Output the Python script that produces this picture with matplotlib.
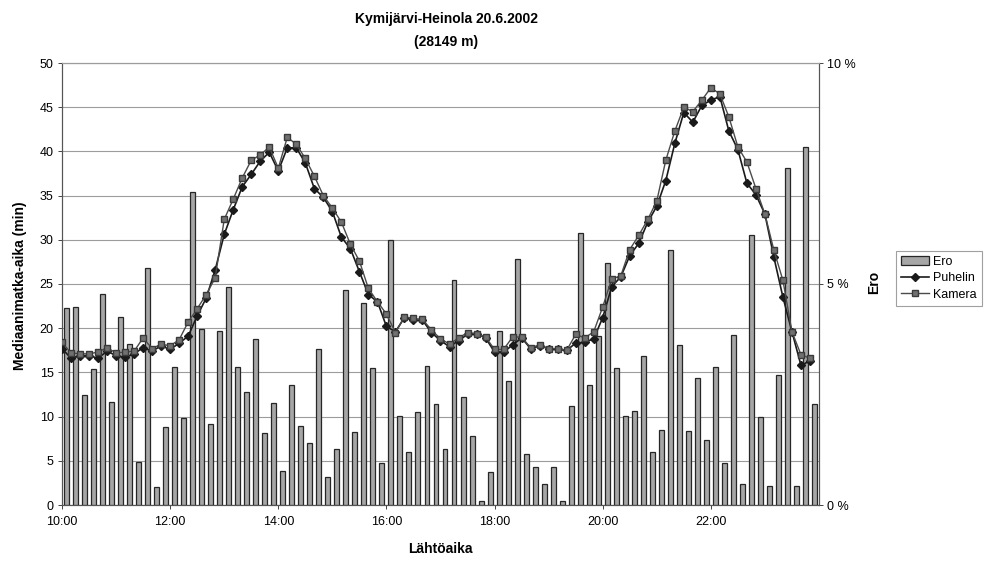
import matplotlib
matplotlib.use('Agg')
import matplotlib.pyplot as plt
import numpy as np
from matplotlib.lines import Line2D
from matplotlib.patches import Patch

plt.rcParams['font.family'] = ['Liberation Sans', 'DejaVu Sans']

# Categories: departure times (10-minute steps)
times = ["10:00", "10:10", "10:20", "10:30", "10:40", "10:50",
         "11:00", "11:10", "11:20", "11:30", "11:40", "11:50",
         "12:00", "12:10", "12:20", "12:30", "12:40", "12:50",
         "13:00", "13:10", "13:20", "13:30", "13:40", "13:50",
         "14:00", "14:10", "14:20", "14:30", "14:40", "14:50",
         "15:00", "15:10", "15:20", "15:30", "15:40", "15:50",
         "16:00", "16:10", "16:20", "16:30", "16:40", "16:50",
         "17:00", "17:10", "17:20", "17:30", "17:40", "17:50",
         "18:00", "18:10", "18:20", "18:30", "18:40", "18:50",
         "19:00", "19:10", "19:20", "19:30", "19:40", "19:50",
         "20:00", "20:10", "20:20", "20:30", "20:40", "20:50",
         "21:00", "21:10", "21:20", "21:30", "21:40", "21:50",
         "22:00", "22:10", "22:20", "22:30", "22:40", "22:50",
         "23:00", "23:10", "23:20", "23:30", "23:40", "23:50"]

tick_labels = ["10:00", "12:00", "14:00", "16:00", "18:00", "20:00", "22:00"]

# Median travel time (min)
puhelin = [17.7, 16.6, 16.9, 16.9, 16.6, 17.4, 16.9, 16.7, 17.1, 17.8, 17.4, 18.0,
           17.6, 18.3, 19.1, 21.4, 23.4, 26.6, 30.6, 33.4, 36.0, 37.4, 38.9, 39.9,
           37.8, 40.4, 40.4, 38.7, 35.8, 34.8, 33.2, 30.3, 29.0, 26.4, 23.8, 23.0,
           20.2, 19.6, 21.2, 20.9, 20.9, 19.5, 18.6, 17.9, 18.6, 19.3, 19.4, 18.9,
           17.3, 17.3, 18.1, 18.9, 17.7, 18.0, 17.7, 17.6, 17.5, 18.3, 18.4, 18.8,
           21.2, 24.7, 25.8, 28.2, 29.6, 32.0, 33.8, 36.7, 40.9, 44.4, 43.3, 45.2,
           45.8, 46.2, 42.3, 40.2, 36.4, 35.1, 32.9, 28.0, 23.5, 19.6, 15.8, 16.3]

kamera = [18.4, 17.2, 17.1, 17.1, 17.3, 17.8, 17.2, 17.3, 17.4, 18.9, 17.7, 18.2,
          18.0, 18.7, 20.7, 22.2, 23.8, 25.7, 32.3, 34.6, 37.0, 39.0, 39.6, 40.5,
          38.1, 41.6, 40.8, 39.2, 37.2, 35.0, 33.6, 32.0, 29.5, 27.6, 24.5, 23.0,
          21.6, 19.5, 21.3, 21.1, 21.0, 19.8, 18.8, 18.2, 18.9, 19.5, 19.4, 19.0,
          17.6, 17.6, 19.0, 19.0, 17.8, 18.1, 17.7, 17.7, 17.5, 19.3, 18.9, 19.6,
          22.4, 25.6, 25.9, 28.9, 30.5, 32.3, 34.4, 39.0, 42.3, 45.0, 44.5, 45.8,
          47.2, 46.5, 43.9, 40.5, 38.8, 35.8, 32.9, 28.8, 25.4, 19.6, 17.0, 16.6]

# Difference (%)
ero = [4.46, 4.48, 2.50, 3.08, 4.78, 2.34, 4.26, 3.64, 0.98, 5.36, 0.40, 1.76,
       3.12, 1.96, 7.08, 3.98, 1.84, 3.94, 4.94, 3.12, 2.56, 3.76, 1.62, 2.30,
       0.76, 2.72, 1.78, 1.40, 3.52, 0.64, 1.26, 4.86, 1.66, 4.56, 3.10, 0.96,
       6.00, 2.02, 1.20, 2.10, 3.14, 2.28, 1.26, 5.08, 2.44, 1.56, 0.10, 0.74,
       3.94, 2.80, 5.56, 1.16, 0.86, 0.48, 0.86, 0.10, 2.24, 6.16, 2.72, 3.82,
       5.48, 3.10, 2.02, 2.12, 3.36, 1.20, 1.70, 5.78, 3.62, 1.68, 2.88, 1.48,
       3.12, 0.96, 3.84, 0.48, 6.10, 1.98, 0.42, 2.94, 7.62, 0.44, 8.10, 2.28]

W, H = 994, 562
fig = plt.figure(figsize=(W / 100, H / 100), dpi=100, facecolor='white')
L, R, T, B = 62, 819, 63, 505
ax = fig.add_axes([L / W, 1 - B / H, (R - L) / W, (B - T) / H])
ax2 = ax.twinx()

# bars + grid behind, lines on top
ax.set_zorder(ax2.get_zorder() + 1)
ax.patch.set_visible(False)
ax2.patch.set_visible(True)
ax2.patch.set_facecolor('white')

bar_face = '#a6a6a6'
bar_edge = '#262626'

x = np.arange(len(times))
ax2.bar(x + 0.5, ero, width=0.55, color=bar_face, edgecolor=bar_edge,
        linewidth=0.9, zorder=3)
ax2.set_ylim(0, 10)
ax2.set_yticks([0, 5, 10])
ax2.set_yticklabels(["0 %", "5 %", "10 %"])
ax2.yaxis.grid(False)
for yv in range(0, 11):
    ax2.axhline(yv, color='#9c9c9c', lw=0.8, zorder=1)

ax.plot(x, puhelin, color='#1a1a1a', lw=1.2, marker='D', markersize=4.5,
        markerfacecolor='#1a1a1a', markeredgecolor='#1a1a1a', zorder=4)
ax.plot(x, kamera, color='#4a4a4a', lw=1.0, marker='s', markersize=4.8,
        markerfacecolor='#707070', markeredgecolor='#3a3a3a', zorder=5)

ax.set_xlim(0, len(times))
ax.set_ylim(0, 50)
ax.set_yticks(np.arange(0, 51, 5))
ax.set_xticks(x[::12])
ax.set_xticklabels(tick_labels)

for a in (ax, ax2):
    a.tick_params(axis='both', labelsize=9, length=3, width=0.7, color='#444444',
                  direction='out', pad=3)
    for s in a.spines.values():
        s.set_color('#555555')
        s.set_linewidth(0.8)
    a.spines['top'].set_color('#9c9c9c')

ax.tick_params(axis='x', pad=5)

fig.text(446 / W, 1 - 19 / H, 'Kymijärvi-Heinola 20.6.2002', ha='center', va='center',
         fontsize=10, fontweight='bold')
fig.text(446 / W, 1 - 42 / H, '(28149 m)', ha='center', va='center',
         fontsize=10, fontweight='bold')
fig.text(20 / W, 1 - 286 / H, 'Mediaanimatka-aika (min)', rotation=90, ha='center',
         va='center', fontsize=10, fontweight='bold')
fig.text(874 / W, 1 - 282 / H, 'Ero', rotation=90, ha='center', va='center',
         fontsize=10, fontweight='bold')
fig.text(440 / W, 1 - 549 / H, 'Lähtöaika', ha='center', va='center',
         fontsize=10, fontweight='bold')

handles = [Patch(facecolor=bar_face, edgecolor=bar_edge, linewidth=0.9),
           Line2D([], [], color='#1a1a1a', lw=1.2, marker='D', markersize=4.5),
           Line2D([], [], color='#4a4a4a', lw=1.0, marker='s', markersize=4.8,
                  markerfacecolor='#707070', markeredgecolor='#3a3a3a')]
leg = fig.legend(handles, ['Ero', 'Puhelin', 'Kamera'], loc='upper left',
                 bbox_to_anchor=(896 / W, 1 - 251 / H), fontsize=9,
                 frameon=True, fancybox=False, edgecolor='#888888',
                 handlelength=2.2, handletextpad=0.4, borderpad=0.4,
                 labelspacing=0.35, borderaxespad=0)
leg.get_frame().set_linewidth(0.8)

fig.savefig('out.png', dpi=100, facecolor='white')
